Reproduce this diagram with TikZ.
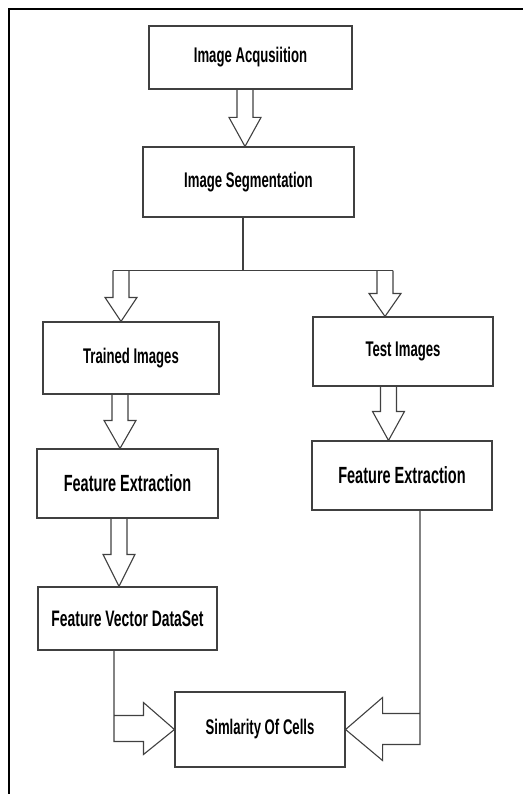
\documentclass[tikz,border=0pt]{standalone}
\usepackage{fontspec}
\setmainfont{Liberation Sans}[FakeStretch=0.62]
\usetikzlibrary{calc}
\tikzset{
  stage/.style={draw=black!75, line width=1.1pt, fill=white, inner sep=2pt,
    font=\bfseries\fontsize{21.2}{25}\selectfont},
  hollow/.style={draw=black!75, line width=1.1pt, line join=miter},
}
% hollow block arrow pointing down: from anchor, to anchor, x shift, head length
\newcommand{\hollowdown}[4]{%
  \coordinate (hs) at ($(#1)+(#3,0)$);
  \coordinate (ht) at (hs|-#2);
  \draw[hollow] ($(hs)+(-8,0)$) |- ($(ht)+(-16,-#4)$) -- (ht)
    -- ($(ht)+(16,-#4)$) -| ($(hs)+(8,0)$);}
\begin{document}
\begin{tikzpicture}[x=1pt,y=-1pt]
\useasboundingbox (0,0) rectangle (523,794);
\draw[line width=2.4pt] (9,794) -- (9,9) -- (523,9);
\node[stage, minimum width=203pt, minimum height=63pt] (acq) at (250.5,57.5) {Image Acqusiition};
\node[stage, minimum width=211pt, minimum height=70pt] (seg) at (248.5,182) {Image Segmentation};
\node[stage, minimum width=176pt, minimum height=72pt] (trained) at (131,358) {Trained Images};
\node[stage, minimum width=180pt, minimum height=69pt] (test) at (403,351.5) {Test Images};
\node[stage, minimum width=181pt, minimum height=69pt, font=\bfseries\fontsize{23.4}{27}\selectfont] (featL) at (127.5,483.5) {Feature Extraction};
\node[stage, minimum width=180pt, minimum height=69pt, font=\bfseries\fontsize{23.4}{27}\selectfont] (featR) at (402,475.5) {Feature Extraction};
\node[stage, minimum width=179pt, minimum height=63pt, font=\bfseries\fontsize{22.4}{26}\selectfont] (fvd) at (127.5,618.5) {Feature Vector DataSet};
\node[stage, minimum width=170pt, minimum height=75pt] (sim) at (260,729.5) {Simlarity Of Cells};
% straight down
\hollowdown{acq.south}{seg.north}{-5.5}{29}
\hollowdown{trained.south}{featL.north}{-11}{28}
\hollowdown{test.south}{featR.north}{-14.5}{29}
\hollowdown{featL.south}{fvd.north}{-8.5}{32}
% split after segmentation
\coordinate (split) at ($(seg.south)+(-5.5,53)$);
\coordinate (lsplit) at ($(split-|trained.north)+(-10,0)$);
\coordinate (rsplit) at ($(split-|test.north)+(-18,0)$);
\draw[hollow] ($(seg.south)+(-5.5,0)$) -- (split);
\draw[hollow] ($(lsplit)+(-8,0)$) -- ($(rsplit)+(8,0)$);
\hollowdown{lsplit}{trained.north}{0}{24}
\hollowdown{rsplit}{test.north}{0}{23}
% into similarity
\coordinate (fin) at ($(fvd.south)+(-13.5,0)$);
\draw[hollow] (fin) |- ($(sim.west)+(-31,-14)$) -- ++(0,-13) -- (sim.west)
  -- ($(sim.west)+(-31,25)$) -- ++(0,-13) -| (fin);
\coordinate (rin) at ($(featR.south)+(18,0)$);
\draw[hollow] (rin) |- ($(sim.east)+(37,-16)$) -- ++(0,-16) -- (sim.east)
  -- ($(sim.east)+(37,31)$) -- ++(0,-16) -| (rin);
\end{tikzpicture}
\end{document}
